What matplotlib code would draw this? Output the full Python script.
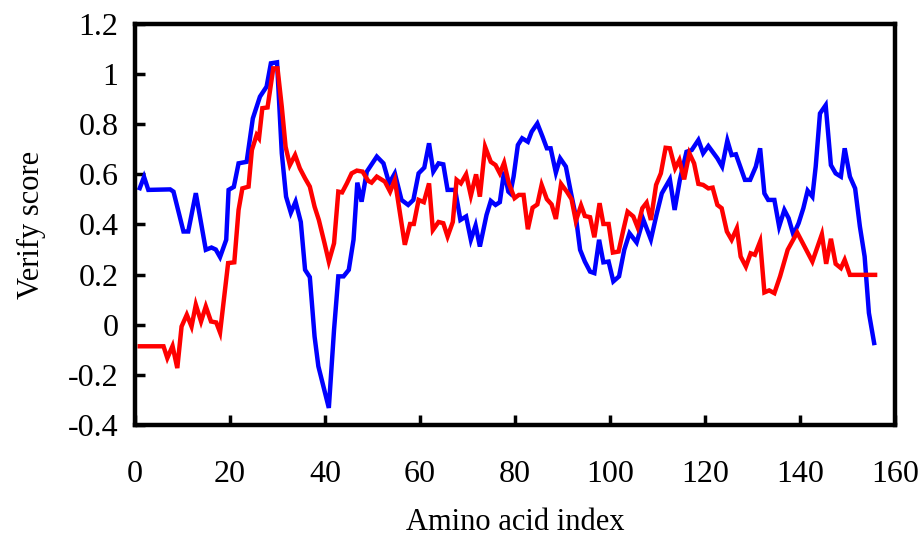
import matplotlib.pyplot as plt
from matplotlib.ticker import FuncFormatter

# vertices (amino acid index, verify score)
blue_x = [1, 1.9, 2.8, 7.4, 8.1, 10.2, 11.2, 12.8, 14.9, 16.1, 17.0, 17.9, 19.2, 19.7,
          20.8, 21.8, 23.5, 24.8, 26.3, 27.7, 28.6, 29.9, 30.9, 31.8, 32.8, 33.8, 34.9,
          35.8, 36.8, 37.8, 38.6, 40.8, 41.9, 42.8, 43.9, 45.0, 46.0, 46.8, 47.7, 48.8,
          50.9, 52.3, 53.5, 54.7, 56.1, 57.5, 58.6, 59.7, 60.9, 61.9, 62.8, 63.9, 64.9,
          65.8, 67.4, 68.5, 69.7, 70.7, 71.7, 72.6, 74.0, 74.9, 75.9, 76.8, 77.7, 78.6,
          79.0, 79.7, 80.6, 81.5, 82.7, 83.5, 84.7, 85.8, 86.7, 87.5, 88.6, 89.5, 90.7,
          91.8, 92.8, 93.7, 94.7, 95.8, 96.7, 97.7, 98.6, 99.7, 100.7, 101.9, 103.0,
          104.1, 105.6, 107.0, 108.6, 109.8, 110.9, 112.6, 113.6, 114.7, 116.1, 117.2,
          118.6, 119.6, 120.7, 122.6, 123.6, 124.7, 125.6, 126.5, 128.4, 129.5, 130.7,
          131.6, 132.5, 133.3, 134.6, 135.6, 136.7, 137.6, 138.6, 139.7, 140.7, 141.6,
          142.6, 143.3, 144.2, 145.4, 146.5, 147.5, 148.6, 149.4, 150.5, 151.6, 152.6,
          153.6, 154.5, 155.6]
blue_y = [0.545, 0.59, 0.538, 0.54, 0.531, 0.372, 0.372, 0.525, 0.299, 0.308, 0.30, 0.27,
          0.339, 0.538, 0.55, 0.644, 0.65, 0.823, 0.91, 0.95, 1.043, 1.047, 0.684, 0.511,
          0.447, 0.491, 0.41, 0.219, 0.19, -0.047, -0.166, -0.332, -0.02, 0.193, 0.193,
          0.219, 0.339, 0.567, 0.491, 0.611, 0.671, 0.644, 0.564, 0.604, 0.498, 0.478,
          0.498, 0.604, 0.627, 0.724, 0.611, 0.644, 0.64, 0.538, 0.538, 0.418, 0.432,
          0.339, 0.396, 0.312, 0.438, 0.494, 0.478, 0.489, 0.611, 0.531, 0.524, 0.591,
          0.717, 0.744, 0.73, 0.77, 0.803, 0.75, 0.704, 0.704, 0.607, 0.664, 0.631,
          0.524, 0.432, 0.299, 0.252, 0.212, 0.206, 0.339, 0.249, 0.252, 0.173, 0.193,
          0.299, 0.365, 0.328, 0.42, 0.34, 0.44, 0.524, 0.58, 0.458, 0.578, 0.69, 0.697,
          0.737, 0.684, 0.713, 0.664, 0.631, 0.735, 0.677, 0.68, 0.578, 0.578, 0.631,
          0.704, 0.524, 0.498, 0.498, 0.392, 0.458, 0.425, 0.359, 0.405, 0.465, 0.535,
          0.511, 0.631, 0.843, 0.876, 0.637, 0.604, 0.591, 0.704, 0.591, 0.544, 0.392,
          0.272, 0.047, -0.073]

red_x = [1, 6.0, 6.8, 7.9, 8.9, 9.8, 10.9, 11.9, 12.8, 13.9, 14.9, 16.0, 17.1, 17.9,
         19.6, 20.9, 21.8, 22.6, 23.9, 24.6, 25.6, 26.1, 26.8, 27.9, 29.1, 30.0, 30.9,
         31.7, 32.6, 33.7, 34.7, 35.8, 36.8, 37.8, 38.7, 39.9, 40.8, 41.9, 42.8, 43.6,
         44.6, 45.6, 46.7, 47.9, 49.1, 49.8, 50.9, 52.6, 53.7, 54.7, 56.8, 57.9, 58.7,
         59.7, 60.8, 61.9, 62.7, 63.9, 64.9, 65.8, 66.9, 67.7, 68.6, 69.7, 70.7, 71.8,
         72.6, 73.7, 74.9, 75.9, 76.8, 77.7, 78.7, 79.9, 80.8, 81.8, 82.7, 83.7, 84.7,
         85.6, 86.7, 87.7, 88.6, 89.7, 90.9, 91.9, 92.8, 93.9, 94.7, 95.8, 96.7, 97.8,
         98.6, 99.7, 100.6, 101.8, 102.8, 103.7, 104.9, 105.8, 106.8, 107.7, 108.6,
         109.7, 110.7, 111.7, 112.6, 113.7, 114.6, 115.6, 116.7, 117.7, 118.6, 119.6,
         120.7, 121.6, 122.6, 123.5, 124.6, 125.6, 126.7, 127.5, 128.6, 129.6, 130.5,
         131.6, 132.5, 133.5, 134.6, 135.8, 137.4, 139.4, 142.6, 144.6, 145.5, 146.5,
         147.5, 148.6, 149.4, 150.5, 155.8]
red_y = [-0.086, -0.086, -0.133, -0.085, -0.173, -0.007, 0.04, -0.007, 0.08, 0.013, 0.073,
         0.013, 0.009, -0.031, 0.246, 0.249, 0.458, 0.544, 0.551, 0.697, 0.757, 0.744,
         0.864, 0.867, 1.023, 1.023, 0.869, 0.71, 0.637, 0.677, 0.624, 0.584, 0.551,
         0.471, 0.418, 0.325, 0.252, 0.325, 0.531, 0.528, 0.564, 0.604, 0.615, 0.611,
         0.574, 0.567, 0.591, 0.571, 0.531, 0.578, 0.319, 0.402, 0.402, 0.498, 0.489,
         0.564, 0.378, 0.41, 0.405, 0.352, 0.41, 0.578, 0.564, 0.6, 0.515, 0.6, 0.511,
         0.71, 0.65, 0.637, 0.604, 0.646, 0.564, 0.505, 0.518, 0.518, 0.381, 0.467,
         0.48, 0.558, 0.501, 0.48, 0.422, 0.562, 0.531, 0.501, 0.414, 0.476, 0.434,
         0.429, 0.349, 0.485, 0.402, 0.402, 0.288, 0.292, 0.378, 0.451, 0.432, 0.389,
         0.465, 0.487, 0.418, 0.558, 0.604, 0.706, 0.704, 0.624, 0.657, 0.58, 0.684,
         0.644, 0.562, 0.558, 0.544, 0.547, 0.478, 0.465, 0.372, 0.339, 0.385, 0.272,
         0.232, 0.285, 0.279, 0.332, 0.129, 0.137, 0.126, 0.193, 0.299, 0.368, 0.252,
         0.361, 0.243, 0.343, 0.243, 0.226, 0.259, 0.199, 0.199]

xticks = [0, 20, 40, 60, 80, 100, 120, 140, 160]
yticks = [-0.4, -0.2, 0, 0.2, 0.4, 0.6, 0.8, 1.0, 1.2]

plt.rcParams['font.family'] = ['Liberation Serif', 'DejaVu Serif']

fig = plt.figure(figsize=(9.21, 5.5), dpi=100)
ax = fig.add_axes([0.1466, 0.2273, 0.8252, 0.7291])

ax.plot(blue_x, blue_y, color='#0000ff', lw=3.2, solid_joinstyle='miter')
ax.plot(red_x, red_y, color='#ff0000', lw=3.2, solid_joinstyle='miter')

ax.set_xlim(0, 160)
ax.set_ylim(-0.4, 1.2)
ax.set_xticks(xticks)
ax.set_yticks(yticks)
ax.yaxis.set_major_formatter(FuncFormatter(lambda v, p: '{:g}'.format(round(v, 1))))

for s in ax.spines.values():
    s.set_linewidth(3.2)
ax.tick_params(direction='in', length=7, width=2.5, labelsize=23)
ax.tick_params(axis='x', pad=25)
ax.tick_params(axis='y', pad=12)

ax.set_xlabel('Amino acid index', fontsize=22, labelpad=14)
ax.set_ylabel('Verify score', fontsize=22, labelpad=16)

fig.savefig('out.png', dpi=100)
